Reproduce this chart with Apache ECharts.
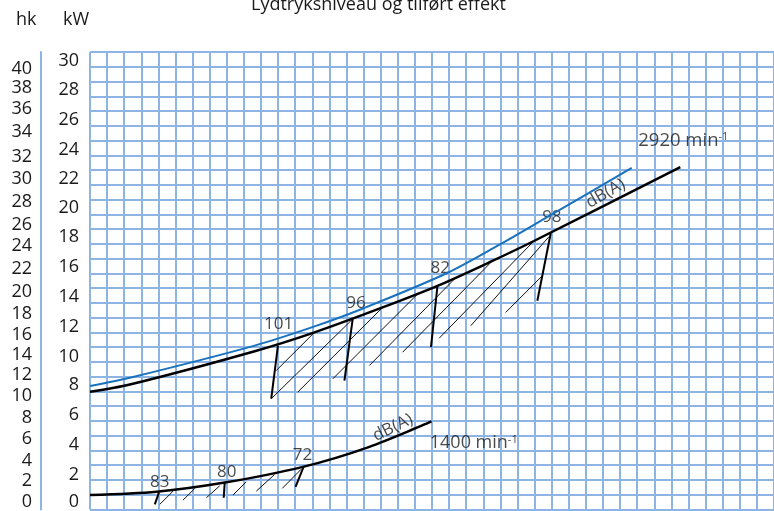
<!DOCTYPE html>
<html><head><meta charset="utf-8">
<script src="https://cdn.jsdelivr.net/npm/echarts@6/dist/echarts.min.js"></script>
<style>html,body{margin:0;padding:0;background:#fff}#c{width:774px;height:511px}</style>
</head><body><div id="c"></div>
<script>
// ---- data (x in grid cells, y in kW) ----
// tick labels and the kW height at which each one is printed in the original
const kwTicks   = [0, 2, 4, 6, 8, 10, 12, 14, 16, 18, 20, 22, 24, 26, 28, 30];
const kwLabelAt = [0.0, 1.85, 3.86, 5.88, 7.91, 9.87, 11.89, 13.92, 15.95, 17.97, 19.93, 21.89, 23.87, 25.87, 27.9, 29.88];
const hkTicks   = [0, 2, 4, 6, 8, 10, 12, 14, 16, 18, 20, 22, 24, 26, 28, 30, 32, 34, 36, 38, 40];
const hkLabelAt = [0.01, 1.4, 2.8, 4.26, 5.68, 7.19, 8.65, 10.0, 11.31, 12.77, 14.26, 15.81, 17.36, 18.78, 20.34, 21.89, 23.38, 25.06, 26.62, 28.04, 29.39];

const blueX = [0, 2.33, 9.63, 13.13, 16.04, 20.89, 23.92, 26.43, 31.68];
const blueY = [7.86, 8.42, 10.6, 11.9, 13.15, 15.52, 17.42, 19.1, 22.65];

const blackX = [0, 2.33, 9.63, 13.13, 17.11, 20.32, 23.53, 25.96, 34.52];
const blackY = [7.47, 7.96, 10.22, 11.5, 13.19, 14.65, 16.34, 17.69, 22.69];

const lowX = [0, 3.89, 7.88, 12.45, 16.34, 19.97];
const lowY = [0.47, 0.7, 1.32, 2.38, 3.74, 5.46];

const upperTickSegs = [
  [10.99,10.60,10.60,7.00],
  [15.36,12.40,14.88,8.23],
  [20.32,14.65,19.94,10.49],
  [26.94,18.20,26.16,13.64]
];
const upperHatchSegs = [
  [10.89,8.91,13.13,11.50],
  [10.60,7.00,15.36,12.40],
  [12.15,7.45,17.11,13.19],
  [14.20,8.35,19.15,14.09],
  [16.34,9.25,21.30,15.10],
  [18.28,10.15,23.53,16.34],
  [20.42,11.10,25.96,17.69],
  [22.27,11.95,26.84,17.98],
  [24.31,12.85,26.45,15.33]
];
const lowerTickSegs = [
  [4.03,0.63,3.79,-0.16],
  [7.88,1.32,7.82,0.29],
  [12.49,2.38,12.02,1.03]
];
const lowerHatchSegs = [
  [4.08,-0.16,4.86,0.74],
  [5.44,0.13,6.13,0.92],
  [6.81,0.29,7.59,1.10],
  [8.36,0.47,9.14,1.37],
  [9.73,0.74,10.79,1.86],
  [11.24,0.92,12.35,2.22]
];

// annotation texts: [text, x, y, rotate, align, fontSize]
const annotations = [
  ['101', 11.03, 12.03, 0, 'center', 17],
  ['96', 15.56, 13.50, 0, 'center', 17],
  ['82', 20.48, 15.85, 0, 'center', 17],
  ['98', 27.01, 19.32, 0, 'center', 17],
  ['dB(A)', 30.15, 20.91, 30, 'center', 17],
  ['{a|2920 min}{b|-1}', 32.06, 24.49, 0, 'left', 18.5],
  ['83', 4.08, 1.32, 0, 'center', 17],
  ['80', 7.99, 2.03, 0, 'center', 17],
  ['72', 12.43, 3.18, 0, 'center', 17],
  ['dB(A)', 17.71, 5.04, 26, 'center', 17],
  ['{a|1400 min}{b|-1}', 19.87, 3.99, 0, 'left', 18]
];

// ---- build ----
const FONT = 'Open Sans';
const TXT = '#1a1a1a';
const GRID_COLOR = '#8db4e2';
const zip = (xs, ys) => xs.map((x, i) => [x, ys[i]]);
const segs = s => s.map(a => ({coords: [[a[0], a[1]], [a[2], a[3]]]}));
const lookup = (at, txt) => v => {
  const i = at.findIndex(p => Math.abs(p - v) < 1e-3);
  return i >= 0 ? String(txt[i]) : '';
};
const hidden = {axisLine: {show: false}, axisTick: {show: false}, axisLabel: {show: false}, splitLine: {show: false}};

const chart = echarts.init(document.getElementById('c'), null, {renderer: 'canvas'});
chart.setOption({
  animation: false,
  backgroundColor: '#fff',
  title: {
    text: 'Lydtryksniveau og tilført effekt',
    left: 246, top: -9,
    textStyle: {fontFamily: FONT, fontSize: 18, fontWeight: 'normal', color: TXT}
  },
  graphic: [
    {type: 'text', left: 16, top: 11, style: {text: 'hk', font: '18px "Open Sans"', fill: TXT}},
    {type: 'text', left: 63, top: 11, style: {text: 'kW', font: '18px "Open Sans"', fill: TXT}}
  ],
  grid: {left: 90, top: 52, width: 685.6, height: 459},
  xAxis: [{
    type: 'value', min: 0, max: 40, interval: 1,
    axisLine: {show: false}, axisTick: {show: false}, axisLabel: {show: false},
    splitLine: {show: true, lineStyle: {color: GRID_COLOR, width: 2}}
  }],
  yAxis: [
    Object.assign({type: 'value', min: -0.5, max: 30.5, position: 'left'}, hidden), // kW data axis
    { // grid lines
      type: 'value', min: 0, max: 31, interval: 1, position: 'right',
      axisLine: {show: false}, axisTick: {show: false}, axisLabel: {show: false},
      splitLine: {show: true, lineStyle: {color: GRID_COLOR, width: 2}}
    },
    { // hk labels
      type: 'value', min: -0.5, max: 30.5, position: 'left', offset: 49,
      axisLine: {show: true, lineStyle: {color: GRID_COLOR, width: 2}},
      axisTick: {show: false}, splitLine: {show: false},
      axisLabel: {customValues: hkLabelAt, formatter: lookup(hkLabelAt, hkTicks),
        margin: 9, fontFamily: FONT, fontSize: 18, color: TXT}
    },
    { // kW labels
      type: 'value', min: -0.5, max: 30.5, position: 'left', offset: 0,
      axisLine: {show: false}, axisTick: {show: false}, splitLine: {show: false},
      axisLabel: {customValues: kwLabelAt, formatter: lookup(kwLabelAt, kwTicks),
        margin: 11, fontFamily: FONT, fontSize: 18, color: TXT}
    }
  ],
  series: [
    {type: 'line', yAxisIndex: 0, data: zip(blueX, blueY), smooth: 0.3, symbol: 'none',
     lineStyle: {color: '#1a72bf', width: 2}},
    {type: 'line', yAxisIndex: 0, data: zip(blackX, blackY), smooth: 0.3, symbol: 'none',
     lineStyle: {color: '#000', width: 2.5}},
    {type: 'line', yAxisIndex: 0, data: zip(lowX, lowY), smooth: 0.3, symbol: 'none',
     lineStyle: {color: '#000', width: 2.5}},
    {type: 'lines', coordinateSystem: 'cartesian2d', yAxisIndex: 0, data: segs(upperTickSegs.concat(lowerTickSegs)),
     lineStyle: {color: '#000', width: 2, opacity: 1}},
    {type: 'lines', coordinateSystem: 'cartesian2d', yAxisIndex: 0, data: segs(upperHatchSegs.concat(lowerHatchSegs)),
     lineStyle: {color: '#111', width: 1, opacity: 1}},
    {type: 'scatter', yAxisIndex: 0, symbolSize: 0,
     data: annotations.map(a => ({value: [a[1], a[2]], name: a[0],
       label: {rotate: a[3], align: a[4], fontSize: a[5],
         rich: {a: {fontFamily: FONT, fontSize: a[5], color: TXT},
                b: {fontFamily: FONT, fontSize: 11, color: TXT, verticalAlign: 'top', padding: [0, 0, 7, 0]}}}})),
     label: {show: true, position: [0, 0], verticalAlign: 'middle',
       formatter: p => p.name, fontFamily: FONT, color: TXT}
    }
  ]
});
</script></body></html>
